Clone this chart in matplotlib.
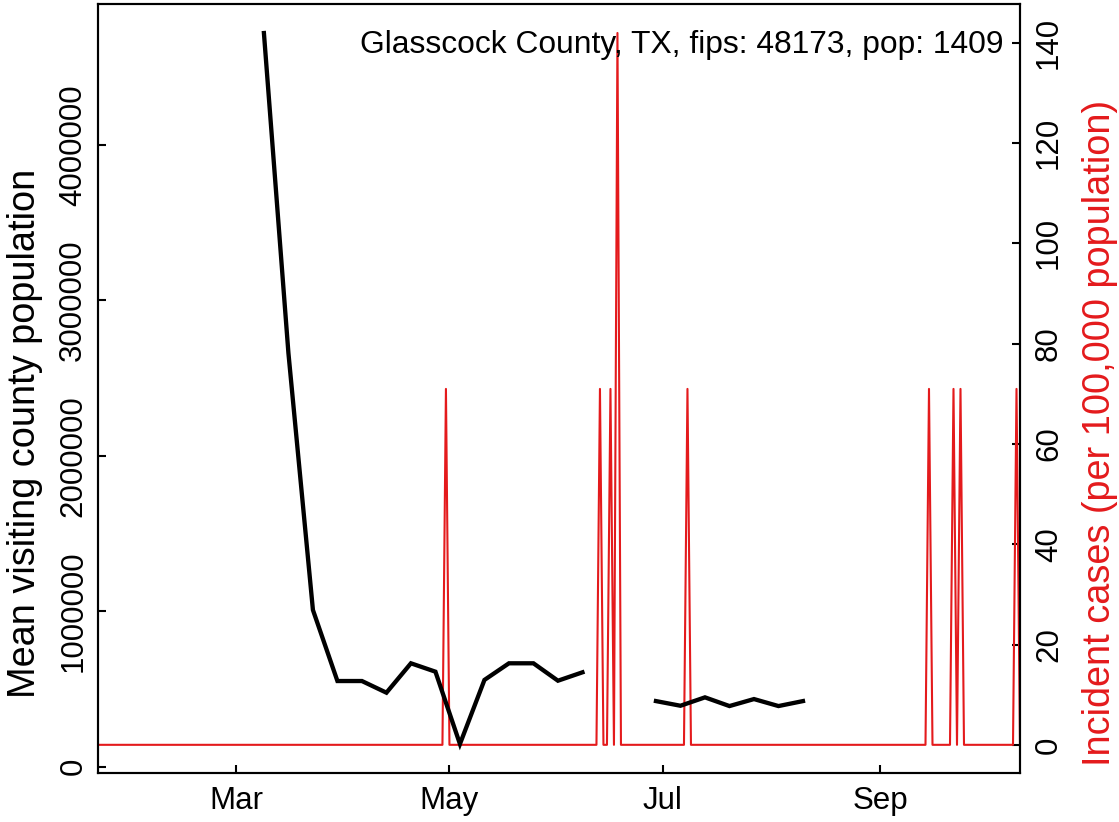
import matplotlib
matplotlib.use("Agg")
import matplotlib.pyplot as plt
import matplotlib.dates as mdates
import numpy as np
import pandas as pd

# ---- data ----
title_text = "Glasscock County, TX, fips: 48173, pop: 1409"

# weekly mean visiting county population (NaN = missing weeks)
week_start = "2020-03-09"
mobility = [4718000, 2660000, 1008000, 551000, 551000, 476000, 665000, 611000,
            146000, 558000, 665000, 665000, 553000, 607000,
            np.nan, np.nan,
            422000, 392000, 446000, 390000, 435000, 390000, 422000]

# daily incident cases per 100,000 population (zero on all other days)
case_start = "2020-01-22"
case_end = "2020-10-11"
spike_dates = ["2020-04-30", "2020-06-13", "2020-06-16", "2020-06-18",
               "2020-07-08", "2020-09-15", "2020-09-22", "2020-09-24",
               "2020-10-10"]
spike_values = [70.97, 70.97, 70.97, 141.94, 70.97, 70.97, 70.97, 70.97, 70.97]

x_tick_dates = ["2020-03-01", "2020-05-01", "2020-07-01", "2020-09-01"]
x_tick_labels = ["Mar", "May", "Jul", "Sep"]
left_ticks = [0, 1000000, 2000000, 3000000, 4000000]
right_ticks = [0, 20, 40, 60, 80, 100, 120, 140]

# ---- build series ----
mob_dates = pd.date_range(week_start, periods=len(mobility), freq="7D")
case_dates = pd.date_range(case_start, case_end, freq="D")
cases = pd.Series(0.0, index=case_dates)
cases.loc[pd.to_datetime(spike_dates)] = spike_values

RED = "#E41A1C"
FS = 22.5
FS_LAB = 27.3
FS_TITLE = 22.9
plt.rcParams["font.family"] = ["Liberation Sans", "DejaVu Sans"]

W, H = 1119, 822
fig = plt.figure(figsize=(W / 100, H / 100), dpi=100)
L, R, T, B = 98, 1020, 4.5, 773.3
ax = fig.add_axes([L / W, 1 - B / H, (R - L) / W, (B - T) / H])
ax2 = ax.twinx()

ax.plot(mob_dates, mobility, color="black", lw=3.1, solid_joinstyle="miter", zorder=3)
ax2.plot(cases.index, cases.values, color=RED, lw=1.5, zorder=2)
ax.set_zorder(ax2.get_zorder() + 1)
ax.patch.set_visible(False)

x0 = mdates.date2num(pd.Timestamp(case_start)) - 0.4
x1 = mdates.date2num(pd.Timestamp(case_end))
ax.set_xlim(x0, x1)
ax2.set_xlim(x0, x1)

ax.set_ylim(-42400, 4901600)
ax2.set_ylim(-5.678, 147.62)

ax.set_xticks(mdates.date2num(pd.to_datetime(x_tick_dates)))
ax.set_xticklabels(x_tick_labels)
ax.set_yticks(left_ticks)
ax.set_yticklabels([str(v) for v in left_ticks], rotation=90, va="center")
ax2.set_yticks(right_ticks)
ax2.set_yticklabels([str(v) for v in right_ticks], rotation=90, va="center")

for a in (ax, ax2):
    for s in a.spines.values():
        s.set_linewidth(1.5)
        s.set_color("black")
ax.tick_params(axis="both", direction="in", length=6, width=1.5, labelsize=FS)
ax.tick_params(axis="x", pad=9)
ax.tick_params(axis="y", pad=7)
ax2.tick_params(axis="y", direction="in", length=6, width=1.5, labelsize=FS, pad=10)

ax.set_ylabel("Mean visiting county population", fontsize=FS_LAB)
ax2.set_ylabel("Incident cases (per 100,000 population)", fontsize=FS_LAB, color=RED,
               rotation=90)
ylab_c = (B - 433) / (B - T)
ax.yaxis.set_label_coords((25 - L) / (R - L), ylab_c)
ax2.yaxis.set_label_coords((1100 - L) / (R - L), ylab_c)
ax.yaxis.label.set_va("center")
ax2.yaxis.label.set_va("center")

ax.text((1003 - L) / (R - L), (B - 45) / (B - T), title_text, transform=ax.transAxes,
        ha="right", va="center", fontsize=FS_TITLE)

fig.savefig("out.png", dpi=100)
